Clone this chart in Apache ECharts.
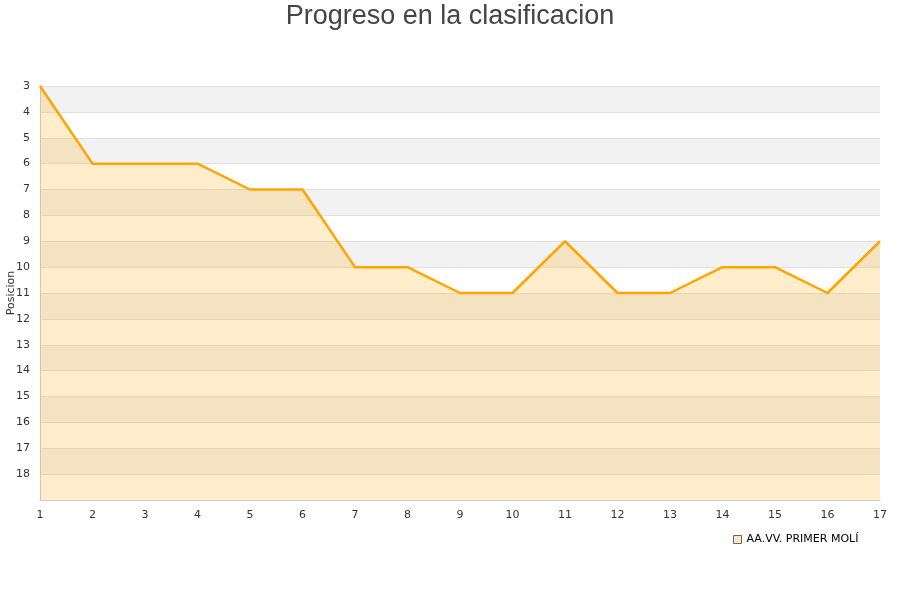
<!DOCTYPE html>
<html><head><meta charset="utf-8">
<script src="https://cdn.jsdelivr.net/npm/echarts@6/dist/echarts.min.js"></script>
<style>html,body{margin:0;padding:0;background:#fff}#c{width:900px;height:600px}</style>
</head><body><div id="c"></div>
<script>
var jornadas = [1,2,3,4,5,6,7,8,9,10,11,12,13,14,15,16,17];
var posiciones = [3,6,6,6,7,7,10,10,11,11,9,11,11,10,10,11,9];
var teamName = 'AA.VV. PRIMER MOLÍ';
var titleText = 'Progreso en la clasificacion';
var yName = 'Posicion';

var seriesData = jornadas.map(function(j,i){return [j, posiciones[i]];});
var chart = echarts.init(document.getElementById('c'));
chart.setOption({
  animation:false,
  backgroundColor:'#fff',
  title:{text:titleText,left:'center',top:0,padding:[3,5,5,5],textStyle:{fontFamily:'Liberation Sans',fontSize:27,fontWeight:'normal',color:'#444'}},
  grid:{left:40,right:20,top:86,bottom:100,containLabel:false,outerBoundsMode:'none'},
  legend:{left:728,top:529,itemWidth:8,itemHeight:8,itemGap:8,icon:'rect',
    textStyle:{fontFamily:'DejaVu Sans',fontSize:11,color:'#000'},
    data:[{name:teamName,itemStyle:{color:'#fde8c4',borderColor:'#666',borderWidth:1}}]},
  xAxis:{type:'value',min:1,max:17,interval:1,
    axisLine:{show:true,lineStyle:{color:'#ccc'}},axisTick:{show:false},splitLine:{show:false},
    axisLabel:{color:'#333',fontFamily:'DejaVu Sans',fontSize:11,margin:10}},
  yAxis:{type:'value',inverse:true,min:3,max:19,interval:1,
    name:yName,nameLocation:'middle',nameGap:23,nameMoveOverlap:false,nameTextStyle:{fontFamily:'DejaVu Sans',fontSize:11,color:'#333'},
    axisLine:{show:true,lineStyle:{color:'#ccc'}},axisTick:{show:false},
    splitLine:{show:true,lineStyle:{color:'#e0e0e0'}},
    splitArea:{show:true,areaStyle:{color:['#f2f2f2','#ffffff']}},
    axisLabel:{color:'#333',fontFamily:'DejaVu Sans',fontSize:11,margin:10,formatter:function(v){return v===19?'':v;}}},
  series:[{name:teamName,type:'line',data:seriesData,showSymbol:false,symbol:'none',
    lineStyle:{color:'#ffa500',width:2.5},itemStyle:{color:'#ffa500'},
    areaStyle:{origin:'end',color:'rgba(255,165,0,0.2)',opacity:1}}]
});
</script></body></html>
